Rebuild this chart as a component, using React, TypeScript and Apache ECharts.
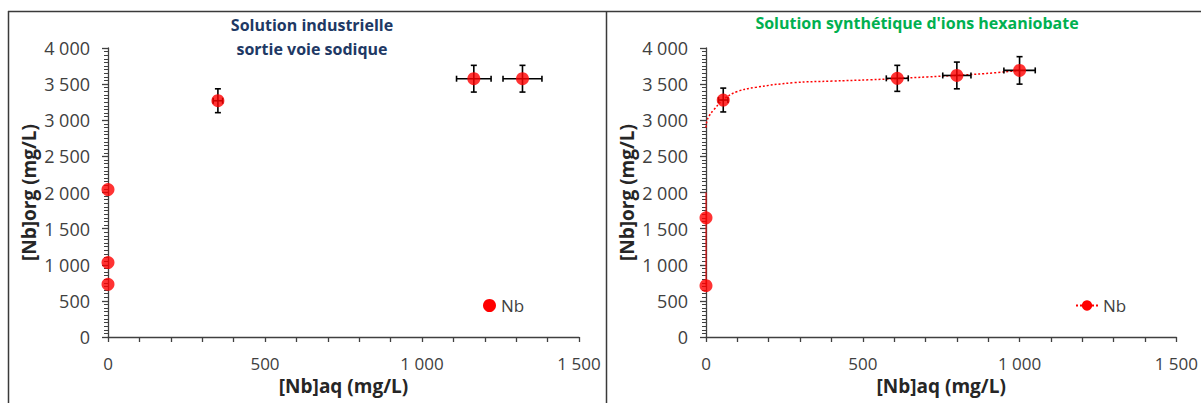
import React, { useEffect, useRef } from "react";
import * as echarts from "echarts";

// Left panel: Solution industrielle sortie voie sodique
const leftX = [0, 0, 0, 350, 1165, 1320];
const leftY = [730, 1030, 2040, 3270, 3575, 3575];
const leftXErr = [0, 0, 0, 15, 55, 62];
const leftYErr = [0, 0, 0, 165, 185, 185];

// Right panel: Solution synthétique d'ions hexaniobate
const rightX = [0, 0, 55, 610, 800, 1000];
const rightY = [710, 1650, 3280, 3580, 3620, 3690];
const rightXErr = [0, 0, 15, 35, 45, 50];
const rightYErr = [0, 0, 165, 180, 185, 190];

// Fitted curve (dotted)
const curveLowX = [0, 0, 0];
const curveLowY = [710, 1650, 2000];
const curveX = [0, 3, 10, 24, 55, 98, 158, 280, 402, 524, 610, 707, 800, 890, 1000];
const curveY = [2900, 2990, 3060, 3140, 3285, 3395, 3455, 3520, 3542, 3560, 3578, 3600, 3622, 3646, 3690];

const xTicks = [0, 500, 1000, 1500];
const yTicks = [0, 500, 1000, 1500, 2000, 2500, 3000, 3500, 4000];

const leftTitle = "Solution industrielle\nsortie voie sodique";
const rightTitle = "Solution synthétique d'ions hexaniobate";
const xName = "[Nb]aq (mg/L)";
const yName = "[Nb]org (mg/L)";
const seriesName = "Nb";

const FONT = "'Open Sans', 'Noto Sans', sans-serif";
const fmt = (v: number) => String(v).replace(/\B(?=(\d{3})+(?!\d))/g, " ");

function errRender(params: any, api: any) {
  const x = api.value(0);
  const y = api.value(1);
  const ex = api.value(2);
  const ey = api.value(3);
  const children: any[] = [];
  const style = { stroke: "#000", lineWidth: 1.6 };
  const cap = 3;
  if (ey > 0) {
    const t = api.coord([x, y + ey]);
    const b = api.coord([x, y - ey]);
    children.push({ type: "line", shape: { x1: t[0], y1: t[1], x2: b[0], y2: b[1] }, style });
    children.push({ type: "line", shape: { x1: t[0] - cap, y1: t[1], x2: t[0] + cap, y2: t[1] }, style });
    children.push({ type: "line", shape: { x1: b[0] - cap, y1: b[1], x2: b[0] + cap, y2: b[1] }, style });
  }
  if (ex > 0) {
    const l = api.coord([x - ex, y]);
    const r = api.coord([x + ex, y]);
    children.push({ type: "line", shape: { x1: l[0], y1: l[1], x2: r[0], y2: r[1] }, style });
    children.push({ type: "line", shape: { x1: l[0], y1: l[1] - cap, x2: l[0], y2: l[1] + cap }, style });
    children.push({ type: "line", shape: { x1: r[0], y1: r[1] - cap, x2: r[0], y2: r[1] + cap }, style });
  }
  return { type: "group", children };
}

function makeX(gridIndex: number) {
  return {
    type: "value",
    gridIndex,
    min: xTicks[0],
    max: xTicks[xTicks.length - 1],
    interval: 500,
    name: xName,
    nameLocation: "middle",
    nameGap: 38,
    nameTextStyle: { fontFamily: FONT, fontSize: 19, fontWeight: "bold", color: "#262626" },
    axisLine: { show: true, onZero: false, lineStyle: { color: "#404040", width: 1.3 } },
    axisTick: { show: true, inside: false, length: 5, lineStyle: { color: "#404040", width: 1.3 } },
    minorTick: { show: true, splitNumber: 5, length: 5, lineStyle: { color: "#404040", width: 1.3 } },
    splitLine: { show: false },
    axisLabel: { fontFamily: FONT, fontSize: 17, color: "#404040", margin: 18, formatter: (v: number) => fmt(v) },
  };
}

function makeY(gridIndex: number) {
  return {
    type: "value",
    gridIndex,
    min: yTicks[0],
    max: yTicks[yTicks.length - 1],
    interval: 500,
    name: yName,
    nameLocation: "middle",
    nameGap: 70,
    nameTextStyle: { fontFamily: FONT, fontSize: 19, fontWeight: "bold", color: "#262626" },
    axisLine: { show: true, onZero: false, lineStyle: { color: "#404040", width: 1.3 } },
    axisTick: { show: true, inside: false, length: 6, lineStyle: { color: "#404040", width: 1.3 } },
    minorTick: { show: true, splitNumber: 10, length: 4, lineStyle: { color: "#404040", width: 1 } },
    splitLine: { show: false },
    axisLabel: { fontFamily: FONT, fontSize: 18, color: "#404040", margin: 18, formatter: (v: number) => fmt(v) },
  };
}

export default function App() {
  const ref = useRef<HTMLDivElement>(null);
  useEffect(() => {
    if (!ref.current) return;
    const chart = echarts.init(ref.current, null, { renderer: "svg" });
    const leftPts = leftX.map((x, i) => [x, leftY[i]]);
    const rightPts = rightX.map((x, i) => [x, rightY[i]]);
    const leftErr = leftX.map((x, i) => [x, leftY[i], leftXErr[i], leftYErr[i]]);
    const rightErr = rightX.map((x, i) => [x, rightY[i], rightXErr[i], rightYErr[i]]);
    const curve = curveX.map((x, i) => [x, curveY[i]]);
    const curveLow = curveLowX.map((x, i) => [x, curveLowY[i]]);

    chart.setOption({
      animation: false,
      backgroundColor: "#fff",
      title: [
        {
          text: leftTitle,
          left: 307,
          top: 8,
          textAlign: "center",
          textStyle: { fontFamily: FONT, fontSize: 16, fontWeight: "bold", color: "#203864", lineHeight: 24 },
        },
        {
          text: rightTitle,
          left: 912,
          top: 10,
          textAlign: "center",
          textStyle: { fontFamily: FONT, fontSize: 16, fontWeight: "bold", color: "#00B050" },
        },
      ],
      grid: [
        { left: 108, top: 48, width: 471, height: 289 },
        { left: 706, top: 48, width: 471, height: 289 },
      ],
      xAxis: [makeX(0), makeX(1)],
      yAxis: [makeY(0), makeY(1)],
      legend: [
        {
          left: 478,
          top: 292,
          itemWidth: 13,
          itemHeight: 13,
          itemGap: 5,
          selectedMode: false,
          textStyle: { fontFamily: FONT, fontSize: 17, color: "#404040" },
          data: [{ name: seriesName, icon: "circle", itemStyle: { color: "#ff0000" } }],
        },
        {
          left: 1070,
          top: 292,
          itemWidth: 22,
          itemHeight: 13,
          selectedMode: false,
          textStyle: { fontFamily: FONT, fontSize: 17, color: "#404040" },
          data: [{ name: seriesName }],
        },
      ],
      graphic: [
        { type: "line", shape: { x1: 8, y1: 11.5, x2: 1201, y2: 11.5 }, style: { stroke: "#3a3a3a", lineWidth: 1.5 } },
        { type: "line", shape: { x1: 8.5, y1: 11, x2: 8.5, y2: 403 }, style: { stroke: "#3a3a3a", lineWidth: 1.5 } },
        { type: "line", shape: { x1: 606.5, y1: 11, x2: 606.5, y2: 403 }, style: { stroke: "#3a3a3a", lineWidth: 1.5 } },
      ],
      series: [
        {
          name: seriesName,
          type: "line",
          xAxisIndex: 1,
          yAxisIndex: 1,
          data: curve,
          smooth: 0.4,
          showSymbol: false,
          symbol: "circle",
          symbolSize: 12,
          itemStyle: { color: "#ff0000" },
          lineStyle: { color: "#ff0000", width: 1.5, type: [2, 2] },
          z: 1,
        },
        {
          type: "line",
          xAxisIndex: 1,
          yAxisIndex: 1,
          data: curveLow,
          showSymbol: false,
          lineStyle: { color: "#ff0000", width: 1 },
          z: 1,
        },
        {
          type: "custom",
          xAxisIndex: 0,
          yAxisIndex: 0,
          renderItem: errRender,
          data: leftErr,
          encode: { x: 0, y: 1 },
          z: 2,
        },
        {
          type: "custom",
          xAxisIndex: 1,
          yAxisIndex: 1,
          renderItem: errRender,
          data: rightErr,
          encode: { x: 0, y: 1 },
          z: 2,
        },
        {
          name: seriesName,
          type: "scatter",
          xAxisIndex: 0,
          yAxisIndex: 0,
          data: leftPts,
          symbol: "circle",
          symbolSize: 13,
          itemStyle: { color: "#ff0000" },
          z: 3,
        },
        {
          name: seriesName,
          type: "scatter",
          xAxisIndex: 1,
          yAxisIndex: 1,
          data: rightPts,
          symbol: "circle",
          symbolSize: 13,
          itemStyle: { color: "#ff0000" },
          z: 3,
        },
      ],
    });
    return () => chart.dispose();
  }, []);
  return (
    <div
      ref={ref}
      style={{ position: "absolute", left: 0, top: 0, width: 1201, height: 403, background: "#fff" }}
    />
  );
}
